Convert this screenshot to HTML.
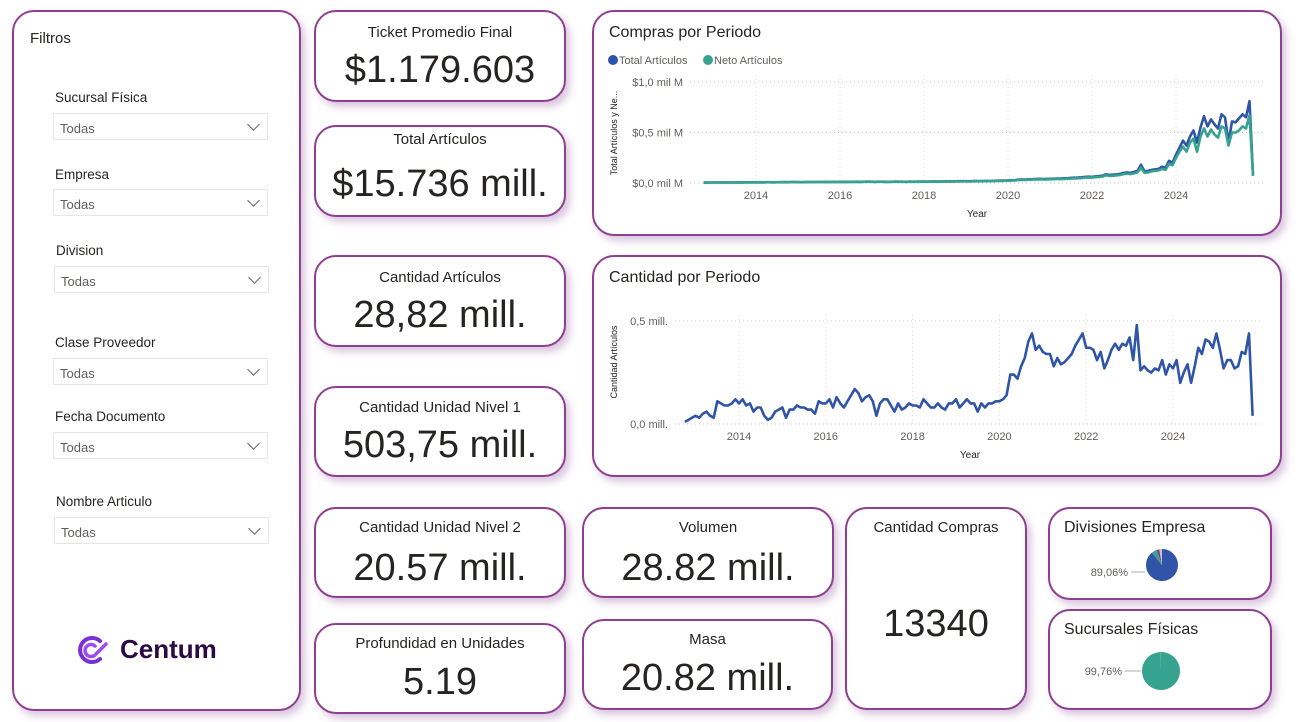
<!DOCTYPE html>
<html><head><meta charset="utf-8">
<style>
*{box-sizing:border-box;margin:0;padding:0}
body{width:1301px;height:722px;background:#fff;font-family:"Liberation Sans",sans-serif;position:relative;overflow:hidden;color:#252423}
.card{position:absolute;background:#fff;border:2px solid #8e3f8f;border-radius:22px;box-shadow:4px 5px 8px rgba(150,90,160,.35)}
.kt{position:absolute;left:0;right:0;text-align:center;font-size:15px;color:#252423}
.kv{position:absolute;left:0;right:0;text-align:center;font-size:38px;color:#252423}
.fl{position:absolute;font-size:13.5px;color:#252423}
.dd{position:absolute;width:215px;height:27px;border:1px solid #e6e6e6;font-size:13px;color:#605e5c;padding:7px 0 0 6px}
.dd::after{content:"";position:absolute;right:9px;top:6px;width:8px;height:8px;border-right:1px solid #666;border-bottom:1px solid #666;transform:rotate(45deg)}
.ct{position:absolute;left:15px;top:12px;font-size:16px;color:#252423}
svg text{font-family:"Liberation Sans",sans-serif}
</style></head><body>

<div class="card" style="left:12px;top:10px;width:289px;height:701px">
  <div style="position:absolute;left:16px;top:18px;font-size:15px">Filtros</div>
  <div class="fl" style="left:41px;top:78px">Sucursal Física</div>
  <div class="dd" style="left:39px;top:101px">Todas</div>
  <div class="fl" style="left:41px;top:155px">Empresa</div>
  <div class="dd" style="left:39px;top:177px">Todas</div>
  <div class="fl" style="left:42px;top:231px">Division</div>
  <div class="dd" style="left:40px;top:254px">Todas</div>
  <div class="fl" style="left:41px;top:323px">Clase Proveedor</div>
  <div class="dd" style="left:39px;top:346px">Todas</div>
  <div class="fl" style="left:41px;top:397px">Fecha Documento</div>
  <div class="dd" style="left:39px;top:420px">Todas</div>
  <div class="fl" style="left:42px;top:482px">Nombre Articulo</div>
  <div class="dd" style="left:40px;top:505px">Todas</div>
  <svg style="position:absolute;left:60px;top:621px" width="38" height="34" viewBox="0 0 38 34">
    <path d="M26 8 A12 12 0 1 0 26 26" fill="none" stroke="#7b2fd6" stroke-width="4" stroke-linecap="round"/>
    <path d="M21 13 A6 6 0 1 0 21 22 L32 11" fill="none" stroke="#9b4df0" stroke-width="3.5" stroke-linecap="round"/>
  </svg>
  <div style="position:absolute;left:106px;top:622px;font-size:26px;font-weight:bold;color:#2a0a45">Centum</div>
</div>

<div class="card" style="left:314px;top:10px;width:252px;height:92px">
  <div class="kt" style="top:12px">Ticket Promedio Final</div><div class="kv" style="top:37px">$1.179.603</div></div>
<div class="card" style="left:314px;top:125px;width:252px;height:92px">
  <div class="kt" style="top:4px">Total Artículos</div><div class="kv" style="top:36px">$15.736 mill.</div></div>
<div class="card" style="left:314px;top:255px;width:252px;height:92px">
  <div class="kt" style="top:12px">Cantidad Artículos</div><div class="kv" style="top:37px">28,82 mill.</div></div>
<div class="card" style="left:314px;top:386px;width:252px;height:91px">
  <div class="kt" style="top:11px">Cantidad Unidad Nivel 1</div><div class="kv" style="top:36px">503,75 mill.</div></div>
<div class="card" style="left:314px;top:507px;width:252px;height:91px">
  <div class="kt" style="top:10px">Cantidad Unidad Nivel 2</div><div class="kv" style="top:38px">20.57 mill.</div></div>
<div class="card" style="left:314px;top:623px;width:252px;height:91px">
  <div class="kt" style="top:10px">Profundidad en Unidades</div><div class="kv" style="top:36px">5.19</div></div>
<div class="card" style="left:582px;top:507px;width:252px;height:91px">
  <div class="kt" style="top:10px">Volumen</div><div class="kv" style="top:38px">28.82 mill.</div></div>
<div class="card" style="left:582px;top:619px;width:251px;height:91px">
  <div class="kt" style="top:10px">Masa</div><div class="kv" style="top:36px">20.82 mill.</div></div>
<div class="card" style="left:845px;top:507px;width:182px;height:203px">
  <div class="kt" style="top:10px">Cantidad Compras</div><div class="kv" style="top:94px">13340</div></div>

<div class="card" style="left:1048px;top:507px;width:224px;height:93px">
  <div class="ct" style="top:10px;left:14px">Divisiones Empresa</div>
  <svg id="pie1" width="224" height="93" style="position:absolute;left:-2px;top:-2px"></svg>
</div>
<div class="card" style="left:1048px;top:609px;width:224px;height:101px">
  <div class="ct" style="top:10px;left:14px">Sucursales Físicas</div>
  <svg id="pie2" width="224" height="101" style="position:absolute;left:-2px;top:-2px"></svg>
</div>

<div class="card" style="left:592px;top:10px;width:690px;height:226px">
  <div class="ct">Compras por Periodo</div>
</div>
<div class="card" style="left:592px;top:255px;width:690px;height:222px">
  <div class="ct">Cantidad por Periodo</div>
</div>
<svg id="charts" width="1301" height="722" style="position:absolute;left:0;top:0;pointer-events:none"></svg>

<script>
const startYear = 2012.75;
const comprasTotal = [0.004,0.004,0.005,
0.005,0.005,0.006,0.006,0.005,0.006,0.006,0.007,0.006,0.007,0.007,0.007,
0.007,0.008,0.007,0.008,0.008,0.007,0.008,0.008,0.009,0.008,0.009,0.009,
0.009,0.008,0.009,0.010,0.009,0.010,0.010,0.010,0.011,0.010,0.011,0.011,
0.011,0.012,0.011,0.012,0.012,0.013,0.012,0.013,0.014,0.013,0.012,0.013,
0.013,0.012,0.012,0.013,0.014,0.013,0.013,0.012,0.014,0.013,0.014,0.015,
0.015,0.014,0.015,0.016,0.015,0.016,0.016,0.017,0.016,0.017,0.018,0.018,
0.018,0.017,0.019,0.020,0.019,0.020,0.021,0.020,0.022,0.023,0.024,0.025,
0.026,0.027,0.028,0.034,0.036,0.035,0.037,0.038,0.040,0.042,0.040,0.041,
0.042,0.043,0.045,0.044,0.047,0.048,0.050,0.052,0.053,0.056,0.060,0.062,
0.060,0.065,0.068,0.072,0.085,0.080,0.082,0.085,0.090,0.100,0.105,0.100,
0.110,0.120,0.180,0.115,0.120,0.130,0.135,0.140,0.160,0.150,0.220,0.200,
0.280,0.350,0.420,0.370,0.460,0.520,0.400,0.550,0.660,0.560,0.630,0.580,
0.540,0.680,0.650,0.400,0.610,0.600,0.640,0.680,0.650,0.810,0.080];
const comprasNeto = [0.004,0.004,0.004,
0.005,0.005,0.005,0.005,0.005,0.005,0.005,0.006,0.006,0.006,0.006,0.006,
0.006,0.007,0.006,0.007,0.007,0.006,0.007,0.007,0.008,0.007,0.008,0.008,
0.008,0.007,0.008,0.009,0.008,0.009,0.009,0.009,0.010,0.009,0.010,0.010,
0.010,0.011,0.010,0.011,0.011,0.012,0.011,0.012,0.012,0.012,0.011,0.012,
0.012,0.011,0.011,0.012,0.012,0.012,0.012,0.011,0.012,0.012,0.012,0.013,
0.013,0.012,0.013,0.014,0.013,0.014,0.014,0.015,0.014,0.015,0.016,0.016,
0.016,0.015,0.017,0.018,0.017,0.018,0.019,0.018,0.019,0.020,0.021,0.022,
0.023,0.024,0.025,0.030,0.032,0.031,0.033,0.034,0.035,0.037,0.035,0.036,
0.037,0.038,0.040,0.039,0.041,0.042,0.044,0.046,0.047,0.049,0.053,0.055,
0.053,0.057,0.060,0.063,0.075,0.070,0.072,0.075,0.079,0.088,0.092,0.088,
0.095,0.105,0.150,0.100,0.105,0.115,0.120,0.125,0.140,0.130,0.190,0.175,
0.250,0.310,0.360,0.310,0.400,0.440,0.310,0.460,0.540,0.460,0.530,0.480,
0.450,0.560,0.540,0.370,0.500,0.500,0.520,0.560,0.540,0.670,0.070];
const cantidad = [0.01,0.02,0.03,
0.04,0.03,0.05,0.06,0.04,0.03,0.11,0.10,0.09,0.09,0.10,0.12,
0.10,0.12,0.09,0.10,0.06,0.08,0.08,0.04,0.02,0.03,0.06,0.07,
0.08,0.03,0.07,0.07,0.09,0.08,0.08,0.07,0.07,0.05,0.11,0.10,
0.10,0.12,0.08,0.13,0.10,0.08,0.11,0.14,0.17,0.15,0.11,0.13,
0.14,0.11,0.04,0.10,0.12,0.12,0.09,0.06,0.10,0.07,0.08,0.10,
0.09,0.09,0.08,0.12,0.10,0.08,0.08,0.10,0.08,0.07,0.10,0.10,
0.12,0.08,0.10,0.12,0.10,0.10,0.06,0.10,0.08,0.10,0.10,0.11,
0.11,0.12,0.14,0.24,0.24,0.22,0.28,0.32,0.40,0.44,0.36,0.38,
0.35,0.34,0.34,0.28,0.32,0.29,0.30,0.32,0.34,0.38,0.41,0.44,
0.37,0.37,0.36,0.31,0.35,0.27,0.31,0.36,0.39,0.36,0.39,0.38,
0.42,0.31,0.48,0.26,0.28,0.26,0.25,0.27,0.26,0.31,0.24,0.29,
0.27,0.31,0.20,0.25,0.29,0.20,0.28,0.37,0.34,0.41,0.40,0.37,
0.44,0.36,0.27,0.31,0.31,0.27,0.28,0.35,0.34,0.44,0.04];
const yearTicks = [2014,2016,2018,2020,2022,2024];
const comprasYTicks = [0,0.5,1.0];
const comprasYLabels = ["$0,0 mil M","$0,5 mil M","$1,0 mil M"];
const cantYTicks = [0,0.5];
const cantYLabels = ["0,0 mill.","0,5 mill."];
const divisionesShares = [89.06,5.2,3.1,2.64];
const divisionesColors = ["#2f54a8","#35a38f","#8e3f8f","#c7c7c7"];
const sucursalesShares = [99.76,0.24];
const sucursalesColors = ["#35a38f","#8c8c8c"];

const NS="http://www.w3.org/2000/svg";
const svg=document.getElementById('charts');
function mk(tag,attrs,parent){const e=document.createElementNS(NS,tag);for(const k in attrs)e.setAttribute(k,attrs[k]);(parent||svg).appendChild(e);return e;}

function drawChart(cfg){
  const xs=y=>cfg.x0+(y-2014)*cfg.pxYear;
  const ys=v=>cfg.yBase-(v/cfg.yUnit)*cfg.yPx;
  cfg.yTicks.forEach((t,i)=>{
    const g=mk('line',{x1:cfg.gx0,x2:cfg.gx1,y1:ys(t),y2:ys(t),stroke:'#c8c8c8','stroke-dasharray':'1 3'});
    
    
    const tx=mk('text',{x:cfg.labelX,y:ys(t)+4,'text-anchor':'end','font-size':11,fill:'#605e5c'});
    tx.textContent=cfg.yLabels[i];
    
    
  });
  yearTicks.forEach(yr=>{
    const g=mk('line',{x1:xs(yr),x2:xs(yr),y1:cfg.gTop,y2:cfg.yBase,stroke:'#d8d8d8','stroke-dasharray':'1 3'});
    
    
    const tx=mk('text',{x:xs(yr),y:cfg.yBase+16,'text-anchor':'middle','font-size':11,fill:'#605e5c'});
    tx.textContent=yr;
    
    
  });
  const xt=mk('text',{x:cfg.xTitleX,y:cfg.yBase+34,'text-anchor':'middle','font-size':10,fill:'#252423'});
  xt.textContent='Year';
  
  
  const yt=mk('text',{x:0,y:0,'text-anchor':'middle','font-size':9,fill:'#252423',transform:`translate(${cfg.yTitleX},${cfg.yTitleY}) rotate(-90)`});
  yt.textContent=cfg.yTitle;
  
  
  cfg.series.forEach(s=>{
    const pts=s.data.map((v,i)=>xs(startYear+i/12).toFixed(1)+','+ys(v).toFixed(1)).join(' ');
    const p=mk('polyline',{points:pts,fill:'none',stroke:s.color,'stroke-width':2.6,'stroke-linejoin':'round'});
    
    
  });
}
drawChart({x0:756,pxYear:42,yBase:183,yUnit:0.5,yPx:50.5,yTicks:comprasYTicks,yLabels:comprasYLabels,
  gx0:690,gx1:1265,gTop:75,labelX:683,xTitleX:977,yTitleX:617,yTitleY:133,yTitle:'Total Artículos y Ne...',
  series:[{data:comprasTotal,color:'#2f54a8',name:'total-articulos-line'},{data:comprasNeto,color:'#35a38f',name:'neto-articulos-line'}]});
drawChart({x0:739,pxYear:43.4,yBase:424,yUnit:0.5,yPx:103,yTicks:cantYTicks,yLabels:cantYLabels,
  gx0:675,gx1:1262,gTop:315,labelX:668,xTitleX:970,yTitleX:617,yTitleY:362,yTitle:'Cantidad Artículos',
  series:[{data:cantidad,color:'#2f54a8',name:'cantidad-articulos-line'}]});

// legend
[['Total Artículos','#2f54a8',608],['Neto Artículos','#35a38f',703]].forEach(l=>{
  const c=mk('circle',{cx:l[2]+5,cy:60,r:5,fill:l[1]});
  
  
  const t=mk('text',{x:l[2]+11,y:64,'font-size':11,fill:'#605e5c'});
  t.textContent=l[0];
  
  
});

function drawPie(el,cx,cy,r,shares,colors,label,lx,ly){
  const s=document.getElementById(el);
  const total=shares.reduce((a,b)=>a+b,0);
  let a=0;
  shares.forEach((v,i)=>{
    const a1=a+v/total*2*Math.PI;
    const x0=cx+r*Math.sin(a),y0=cy-r*Math.cos(a),x1=cx+r*Math.sin(a1),y1=cy-r*Math.cos(a1);
    const large=(a1-a)>Math.PI?1:0;
    const p=mk('path',{d:`M${cx},${cy} L${x0},${y0} A${r},${r} 0 ${large} 1 ${x1},${y1} Z`,fill:colors[i]},s);
    
    
    a=a1;
  });
  mk('line',{x1:lx+3,x2:cx-r-1,y1:ly-4,y2:ly-4,stroke:'#c8c8c8','stroke-width':1.5},s);
  const t=mk('text',{x:lx,y:ly,'text-anchor':'end','font-size':11,fill:'#605e5c'},s);
  t.textContent=label;
  
  
}
drawPie('pie1',114,58,16,divisionesShares,divisionesColors,'89,06%',80,69);
drawPie('pie2',113,62,19,sucursalesShares,sucursalesColors,'99,76%',74,66);
</script>
</body></html>
